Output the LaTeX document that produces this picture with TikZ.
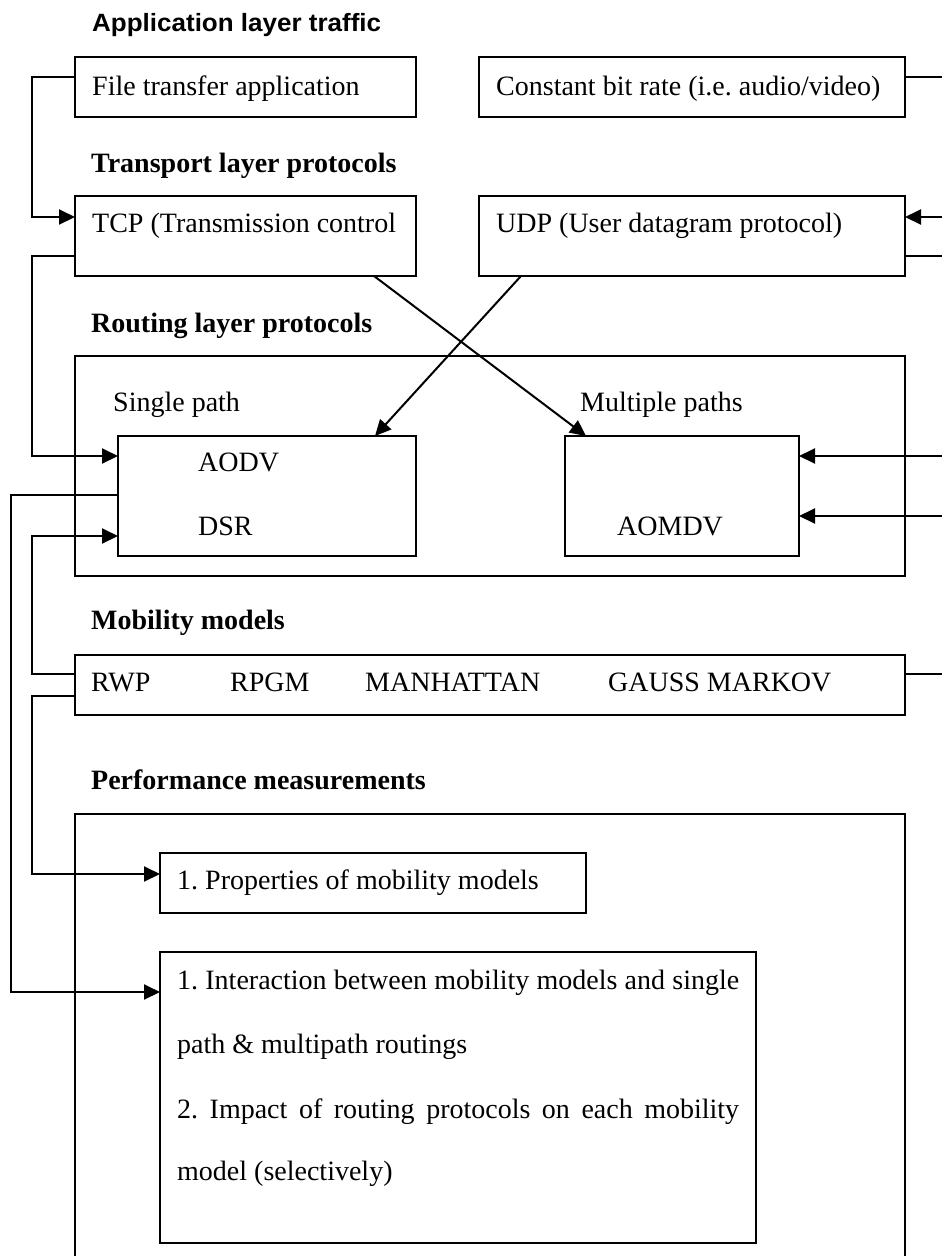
\documentclass[tikz,border=0pt]{standalone}
\usepackage{fontspec}
\setmainfont{Liberation Serif}
\newfontfamily\titlefont{Liberation Sans}
\usetikzlibrary{arrows.meta}
\begin{document}
\frenchspacing
\begin{tikzpicture}[x=1pt,y=-1pt,
  box/.style={draw,line width=1.4pt,inner sep=0pt,outer sep=0pt,anchor=north west},
  txt/.style={anchor=base west,inner sep=0pt,font=\fontsize{28}{32}\selectfont\frenchspacing},
  hdr/.style={anchor=base west,inner sep=0pt,font=\fontsize{28}{32}\selectfont\bfseries},
  conn/.style={line width=2pt},
  arr/.style={conn,-{Triangle[length=16pt,width=15pt]}}]
\useasboundingbox (0,0) rectangle (942,1256);

% boxes
\node[box,minimum width=341pt,minimum height=60pt] (file) at (75,57) {};
\node[box,minimum width=426pt,minimum height=60pt] (const) at (479,57) {};
\node[box,minimum width=341pt,minimum height=80pt] (tcp) at (75,196) {};
\node[box,minimum width=426pt,minimum height=80pt] (udp) at (479,196) {};
\node[box,minimum width=830pt,minimum height=220pt] (routing) at (75,356) {};
\node[box,minimum width=298pt,minimum height=120pt] (aodv) at (118,436) {};
\node[box,minimum width=234pt,minimum height=120pt] (aomdv) at (565,436) {};
\node[box,minimum width=830pt,minimum height=60pt] (mob) at (75,655) {};
\coordinate (pbl) at (75,1256);
\coordinate (ptl) at (75,814);
\coordinate (ptr) at (905,814);
\coordinate (pbr) at (905,1256);
\draw[line width=1.4pt] (pbl) -- (ptl) -- (ptr) -- (pbr);
\node[box,minimum width=426pt,minimum height=60pt] (props) at (160,853) {};
\node[box,minimum width=596pt,minimum height=291pt] (inter) at (160,952) {};

% texts
\node[anchor=base west,inner sep=0pt,font=\titlefont\bfseries\fontsize{25}{29}\selectfont] (title) at (92,31) {\scalebox{1.04}[1]{Application layer traffic}};
\node[txt] (tfile) at (92,95) {File transfer application};
\node[txt] (tconst) at (496,95) {Constant bit rate (i.e. audio/video)};
\node[hdr] (htrans) at (91,172) {Transport layer protocols};
\node[txt] (ttcp) at (92,232) {TCP (Transmission control};
\node[txt] (tudp) at (496,232) {UDP (User datagram protocol)};
\node[hdr] (hrout) at (91,332) {Routing layer protocols};
\node[txt] (tsingle) at (113,411) {Single path};
\node[txt] (tmulti) at (580,411) {Multiple paths};
\node[txt] (taodv) at (198,471) {AODV};
\node[txt] (tdsr) at (198,535) {DSR};
\node[txt] (taomdv) at (617,535) {AOMDV};
\node[hdr] (hmob) at (91,629) {Mobility models};
\node[txt] (trwp) at (91,691) {RWP};
\node[txt] (trpgm) at (230,691) {RPGM};
\node[txt] (tman) at (365,691) {MANHATTAN};
\node[txt] (tgauss) at (608,691) {GAUSS MARKOV};
\node[hdr] (hperf) at (91,789) {Performance measurements};
\node[txt] (tprops) at (177,889) {1. Properties of mobility models};
\node[txt] (ti1) at (177,989) {\makebox[562pt][s]{1. Interaction between mobility models and single}};
\node[txt] (ti2) at (177,1053) {path \& multipath routings};
\node[txt] (ti3) at (177,1118) {\makebox[562pt][s]{2. Impact of routing protocols on each mobility}};
\node[txt] (ti4) at (177,1180) {model (selectively)};

% connectors
\draw[arr] ([yshift=-20pt]file.north west) -- ++(-43,0) |- ([yshift=-21pt]tcp.north west);
\coordinate (e1) at (942,77);
\draw[conn] ([yshift=-20pt]const.north east) -- (e1);
\coordinate (e2) at (942,217);
\draw[arr] (e2) -- ([yshift=-21pt]udp.north east);
\coordinate (e3) at (942,256);
\draw[conn] ([yshift=-60pt]udp.north east) -- (e3);
\draw[arr] ([yshift=-60pt]tcp.north west) -- ++(-43,0) |- ([yshift=-20pt]aodv.north west);
\draw[arr] ([xshift=-42pt]tcp.south east) -- ([xshift=21pt]aomdv.north west);
\draw[arr] ([xshift=42pt]udp.south west) -- ([xshift=-41pt]aodv.north east);
\coordinate (e4) at (942,456);
\draw[arr] (e4) -- ([yshift=-20pt]aomdv.north east);
\coordinate (e5) at (942,516);
\draw[arr] (e5) -- ([yshift=-80pt]aomdv.north east);
\draw[arr] ([yshift=-59pt]aodv.north west) -- ++(-107,0) |- ([yshift=-40pt]inter.north west);
\draw[arr] ([yshift=-19pt]mob.north west) -- ++(-43,0) |- ([yshift=-100pt]aodv.north west);
\draw[arr] ([yshift=-41pt]mob.north west) -- ++(-43,0) |- ([yshift=-21pt]props.north west);
\coordinate (e6) at (942,674);
\draw[conn] ([yshift=-19pt]mob.north east) -- (e6);
\end{tikzpicture}
\end{document}
